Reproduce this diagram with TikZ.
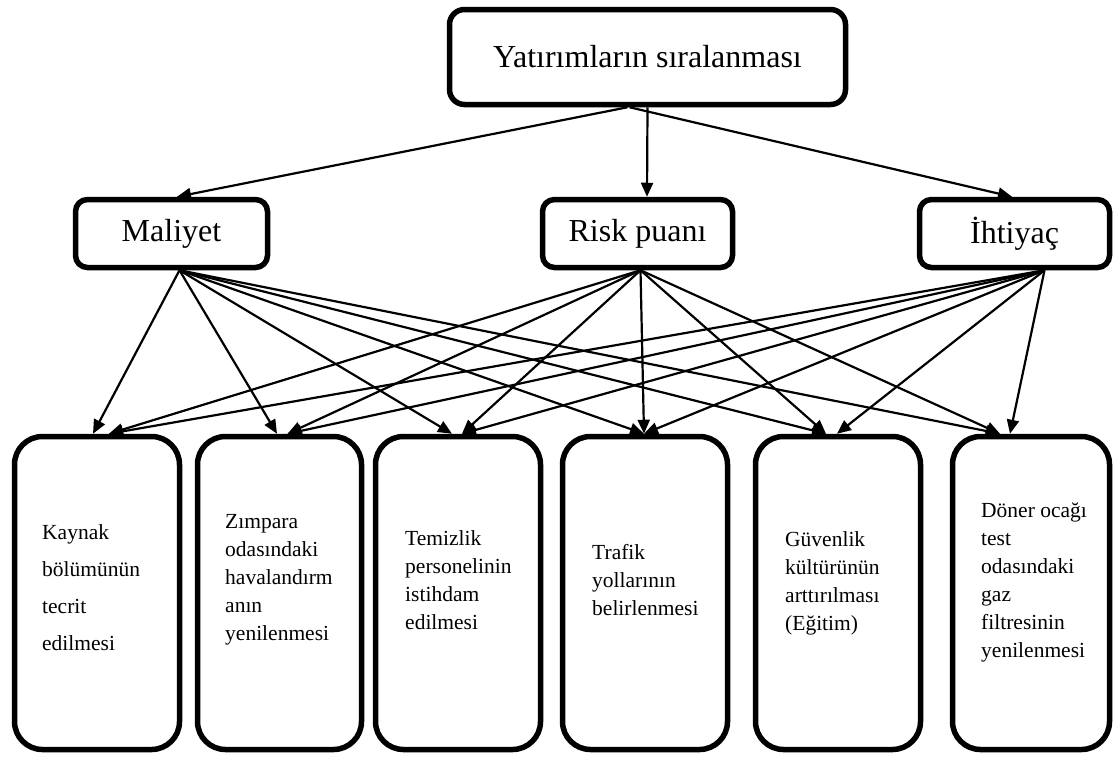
\documentclass[tikz,border=0pt]{standalone}
\usepackage{fontspec}
\setmainfont{Liberation Serif}
\usetikzlibrary{arrows.meta}
\begin{document}
\begin{tikzpicture}[x=1pt,y=-1pt,
  arr/.style={line width=2.2pt,-{Triangle[length=14pt,width=12pt]}},
  topbox/.style={draw,line width=5.5pt,rounded corners=15pt,minimum width=396pt,minimum height=95pt,inner sep=0pt,font=\fontsize{32}{37}\selectfont},
  midbox/.style={draw,line width=5.5pt,rounded corners=12pt,minimum height=68pt,inner sep=0pt,font=\fontsize{32}{37}\selectfont},
  botbox/.style={draw,line width=5.5pt,rounded corners=28pt,minimum height=313pt,inner sep=0pt},
  bottext/.style={anchor=west,align=left,inner sep=0pt,font=\fontsize{21.5}{28}\selectfont}]
\useasboundingbox (0,0) rectangle (1115,756);

\node[topbox] (top) at (647.5,57) {Yatırımların sıralanması};

\node[midbox,minimum width=192pt] (m) at (171.5,233.5) {Maliyet};
\node[midbox,minimum width=190pt] (r) at (637.5,233.5) {Risk puanı};
\node[midbox,minimum width=190pt] (i) at (1014.5,233.5) {İhtiyaç};

\node[botbox,minimum width=165pt] (b1) at (97,593) {};
\node[botbox,minimum width=164pt] (b2) at (279.5,593) {};
\node[botbox,minimum width=165pt] (b3) at (458,593) {};
\node[botbox,minimum width=165pt] (b4) at (645,593) {};
\node[botbox,minimum width=165pt] (b5) at (838,593) {};
\node[botbox,minimum width=157pt] (b6) at (1031,593) {};

\node[bottext,font=\fontsize{21.5}{37}\selectfont] (t1) at (42,588) {Kaynak\\bölümünün\\tecrit\\edilmesi};
\node[bottext] (t2) at (225,580) {Zımpara\\odasındaki\\havalandırm\\anın\\yenilenmesi};
\node[bottext] (t3) at (405,580) {Temizlik\\personelinin\\istihdam\\edilmesi};
\node[bottext] (t4) at (592,580) {Trafik\\yollarının\\belirlenmesi};
\node[bottext] (t5) at (785,583) {Güvenlik\\kültürünün\\arttırılması\\(Eğitim)};
\node[bottext] (t6) at (981,582) {Döner ocağı\\test\\odasındaki\\gaz\\filtresinin\\yenilenmesi};

% top level
\draw[arr] ([xshift=-20pt]top.south) -- ([xshift=5.5pt]m.north);
\draw[arr] (top.south) -- ([xshift=9.5pt]r.north);
\draw[arr] ([xshift=-18pt]top.south) -- ([xshift=-2.5pt]i.north);

% Maliyet
\draw[arr] ([xshift=8pt]m.south) -- ([xshift=-4pt]b1.north);
\draw[arr] ([xshift=8pt]m.south) -- ([xshift=-2.5pt]b2.north);
\draw[arr] ([xshift=8pt]m.south) -- ([xshift=-6pt]b3.north);
\draw[arr] ([xshift=8pt]m.south) -- ([xshift=-1pt]b4.north);
\draw[arr] ([xshift=8pt]m.south) -- ([xshift=-12pt]b5.north);
\draw[arr] ([xshift=8pt]m.south) -- ([xshift=-31pt]b6.north);

% Risk puani
\draw[arr] ([xshift=3pt]r.south) -- ([xshift=12pt]b1.north);
\draw[arr] ([xshift=3pt]r.south) -- ([xshift=8pt]b2.north);
\draw[arr] ([xshift=3pt]r.south) -- ([xshift=4pt]b3.north);
\draw[arr] ([xshift=3pt]r.south) -- ([xshift=-1pt]b4.north);
\draw[arr] ([xshift=3pt]r.south) -- ([xshift=-12pt]b5.north);
\draw[arr] ([xshift=3pt]r.south) -- ([xshift=-31pt]b6.north);

% Ihtiyac
\draw[arr] ([xshift=30pt]i.south) -- ([xshift=12pt]b1.north);
\draw[arr] ([xshift=30pt]i.south) -- ([xshift=8pt]b2.north);
\draw[arr] ([xshift=30pt]i.south) -- ([xshift=4pt]b3.north);
\draw[arr] ([xshift=30pt]i.south) -- ([xshift=-1pt]b4.north);
\draw[arr] ([xshift=30pt]i.south) -- ([xshift=-1pt]b5.north);
\draw[arr] ([xshift=30pt]i.south) -- ([xshift=-21pt]b6.north);
\end{tikzpicture}
\end{document}
